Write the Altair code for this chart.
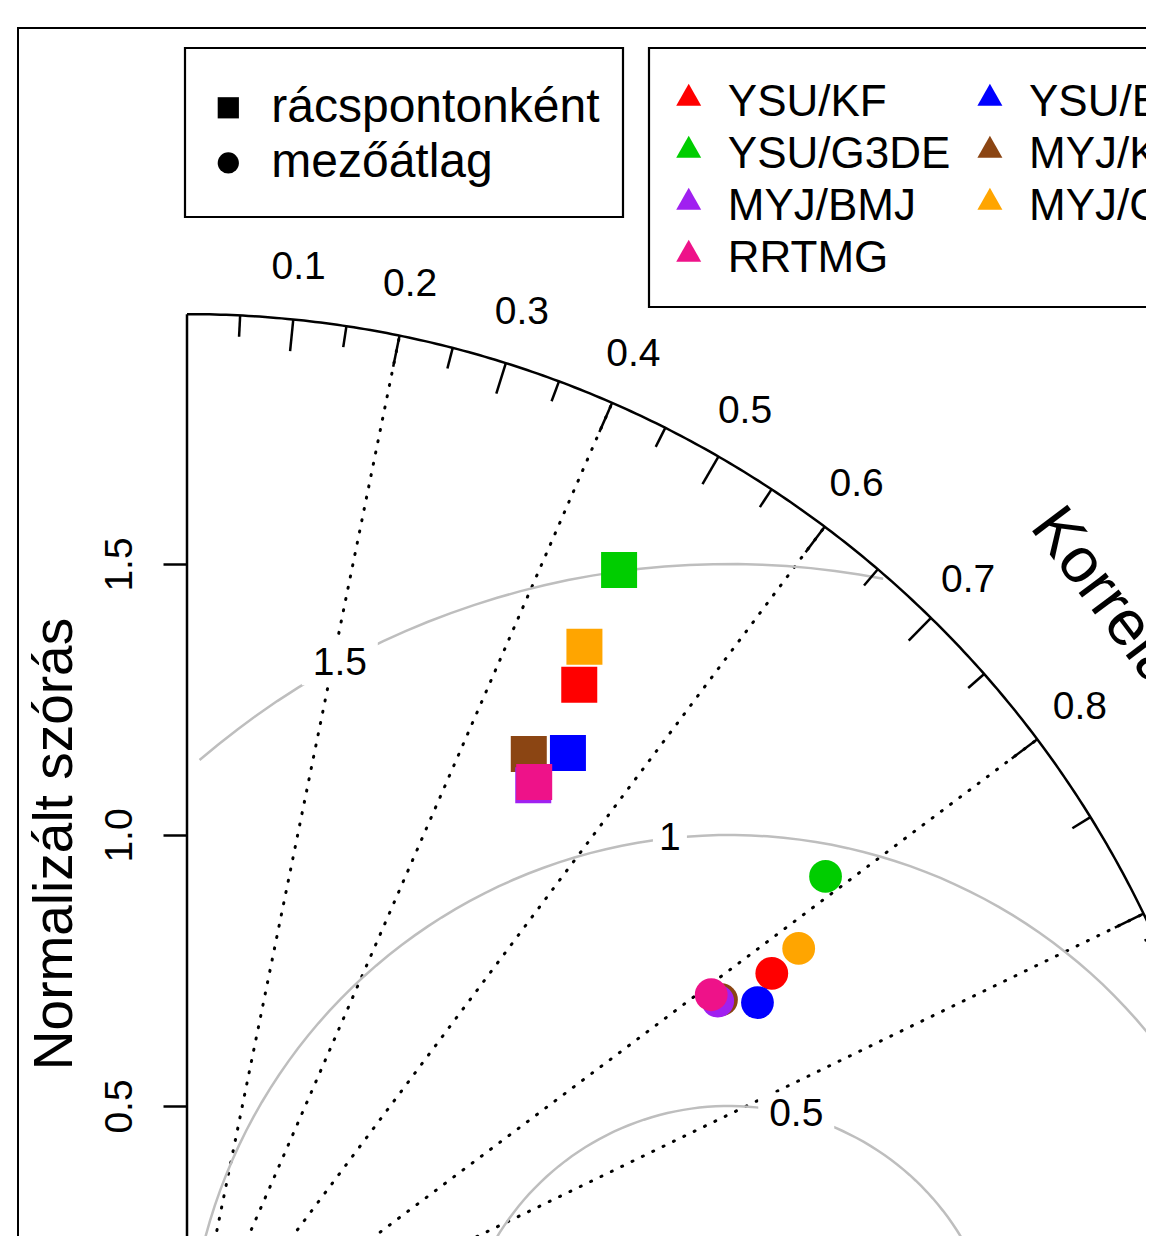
import numpy as np
import pandas as pd
import altair as alt

# ---------------- data ----------------
models = ["YSU/KF", "YSU/BMJ", "YSU/G3DE", "MYJ/KF", "MYJ/BMJ", "MYJ/G3DE", "RRTMG"]
colors = ["#FF0000", "#0000FF", "#00CD00", "#8B4513", "#A020F0", "#FFA500", "#EE1289"]
# order in which the legend lists the models (filled column by column)
legend_order = ["YSU/KF", "YSU/G3DE", "MYJ/BMJ", "RRTMG", "YSU/BMJ", "MYJ/KF", "MYJ/G3DE"]
types = ["rácspontonként", "mezőátlag"]
# grid-point statistics (squares)
grid_sd = [1.468, 1.349, 1.689, 1.311, 1.265, 1.534, 1.271]
grid_r = [0.493, 0.521, 0.472, 0.481, 0.505, 0.478, 0.504]
# field-mean statistics (circles)
mean_sd = [1.311, 1.259, 1.497, 1.207, 1.200, 1.378, 1.197]
mean_r = [0.823, 0.836, 0.787, 0.817, 0.816, 0.819, 0.808]

sd_ticks = [0.5, 1.0, 1.5]
corr_label_values = [0.1, 0.2, 0.3, 0.4, 0.5, 0.6, 0.7, 0.8, 0.9, 0.95, 0.99]
corr_lines = [0.2, 0.4, 0.6, 0.8, 0.9]
rms_levels = [0.5, 1.0, 1.5]
rms_label_text = ["0.5", "1", "1.5"]
max_sd = 1.961
ref_sd = 1.0
y_title = "Normalizált szórás"
x_title = "Korreláció"

# ---------------- layout ----------------
W, H = 1138, 1228
PX = 542.0                 # pixels per unit
OX, OY = 179.0, 1369.0     # chart pixel of the diagram origin
FONT = "Liberation Sans"


def dx(px):
    return (px - OX) / PX


def dy(py):
    return (OY - py) / PX


xs = alt.Scale(domain=[dx(0), dx(W)], nice=False, zero=False)
ys = alt.Scale(domain=[dy(H), dy(0)], nice=False, zero=False)

yaxis = alt.Axis(values=sd_ticks, format=".1f", domain=False, grid=False,
                 ticks=True, tickSize=24, tickWidth=2.5, tickColor="black",
                 labelAngle=270, labelAlign="center", labelBaseline="bottom",
                 labelFont=FONT, labelFontSize=39, labelColor="black",
                 labelPadding=24, offset=-OX, labelFlush=False, labelOverlap=False)


def X(f):
    return alt.X(f, type="quantitative", scale=xs, axis=None)


def Y(f):
    return alt.Y(f, type="quantitative", scale=ys, axis=yaxis, title=None)


# ---------------- geometry tables ----------------
frame = pd.DataFrame([dict(x=dx(10), y=dy(20), x2=dx(2000), y2=dy(2000))])
boxes = pd.DataFrame([
    dict(x=dx(177), y=dy(40), x2=dx(615), y2=dy(209)),
    dict(x=dx(641), y=dy(40), x2=dx(2000), y2=dy(299)),
])

th = np.linspace(0, np.pi / 2, 300)
arc = pd.DataFrame({"i": np.arange(len(th)), "x": max_sd * np.cos(th), "y": max_sd * np.sin(th)})

rows = []
labels = []
tt = np.arange(0, np.pi, 0.03)
label_idx = [44, 56, 69]
for k, g in enumerate(rms_levels):
    xc = np.cos(tt) * g + ref_sd
    yc = np.sin(tt) * g
    neg = np.where(xc < 0)[0]
    end = neg.min() - 1 if len(neg) else len(tt) - 1
    out = np.where(xc ** 2 + yc ** 2 > max_sd ** 2)[0]
    start = out.max() + 1 if len(out) else 0
    for i in range(start, end + 1):
        rows.append(dict(level=g, i=i, x=xc[i], y=yc[i]))
    j = label_idx[k]
    labels.append(dict(x=xc[j], y=yc[j], t=rms_label_text[k], wide=len(rms_label_text[k]) > 1))
contours = pd.DataFrame(rows)
clab = pd.DataFrame(labels)

rad = pd.DataFrame([dict(x=0.0, y=0.0, x2=max_sd * c, y2=max_sd * np.sqrt(1 - c * c)) for c in corr_lines])

trows = []
for vals, f in [(np.arange(1, 10) / 10, 0.97), (np.arange(0.05, 1.0, 0.1), 0.98),
                (np.arange(91, 100) / 100, 0.99)]:
    for c in vals:
        s = np.sqrt(1 - c * c)
        trows.append(dict(x=max_sd * c, y=max_sd * s, x2=f * max_sd * c, y2=f * max_sd * s))
ticks = pd.DataFrame(trows)

tlab = pd.DataFrame([dict(x=1.05 * max_sd * c, y=1.05 * max_sd * np.sqrt(1 - c * c), t=str(c))
                     for c in corr_label_values])

yline = pd.DataFrame([dict(x=0.0, y=0.0, y2=max_sd)])

ytitle = pd.DataFrame([dict(x=dx(64), y=dy(836), t=y_title)])
xtitle = pd.DataFrame([dict(x=dx(1021), y=dy(519), t=x_title)])

df_grid = pd.DataFrame({"model": models, "type": types[0],
                        "x": np.array(grid_sd) * np.array(grid_r),
                        "y": np.array(grid_sd) * np.sqrt(1 - np.array(grid_r) ** 2)})
df_mean = pd.DataFrame({"model": models, "type": types[1],
                        "x": np.array(mean_sd) * np.array(mean_r),
                        "y": np.array(mean_sd) * np.sqrt(1 - np.array(mean_r) ** 2)})

# ---------------- legends ----------------
color_of = dict(zip(models, colors))
color_legend = alt.Legend(title=None, orient="none", legendX=658.7, legendY=72.9, columns=2,
                          symbolType="M0,-1.54L1,0.22L-1,0.22Z", symbolSize=625,
                          symbolStrokeWidth=0, symbolOpacity=1,
                          labelFont=FONT, labelFontSize=44, labelColor="black",
                          labelOffset=17.1, columnPadding=17.2, rowPadding=8,
                          labelLimit=800, padding=0)
shape_legend = alt.Legend(title=None, orient="none", legendX=196.3, legendY=75.8,
                          symbolSize=450, symbolStrokeWidth=0, symbolOpacity=1,
                          labelFont=FONT, labelFontSize=48, labelColor="black",
                          labelOffset=19, rowPadding=7.1, labelLimit=800, padding=0)

color_enc = alt.Color("model:N",
                      scale=alt.Scale(domain=legend_order, range=[color_of[m] for m in legend_order]),
                      legend=color_legend)
shape_enc = alt.Shape("type:N", scale=alt.Scale(domain=types, range=["square", "circle"]), legend=shape_legend)

# ---------------- layers ----------------
l_frame = alt.Chart(frame).mark_rect(fillOpacity=0, stroke="black", strokeWidth=2, clip=True).encode(
    x=X("x"), x2="x2", y=Y("y"), y2="y2")
l_boxes = alt.Chart(boxes).mark_rect(fillOpacity=0, stroke="black", strokeWidth=2.2, clip=True).encode(
    x=X("x"), x2="x2", y=Y("y"), y2="y2")
l_rad = alt.Chart(rad).mark_rule(color="black", strokeWidth=3, strokeDash=[1, 10.5], strokeCap="round",
                                 clip=True).encode(x=X("x"), y=Y("y"), x2="x2", y2="y2")
l_cont = alt.Chart(contours).mark_line(color="#BEBEBE", strokeWidth=2.5, clip=True).encode(
    x=X("x"), y=Y("y"), detail="level:N", order="i:Q")
l_box_w = alt.Chart(clab).transform_filter("datum.wide").mark_point(
    shape="M-1,-0.58L1,-0.58L1,0.58L-1,0.58Z", size=76 * 76, filled=True, color="white", opacity=1,
    strokeWidth=0).encode(x=X("x"), y=Y("y"))
l_box_n = alt.Chart(clab).transform_filter("!datum.wide").mark_point(
    shape="M-1,-1.3L1,-1.3L1,1.3L-1,1.3Z", size=34 * 34, filled=True, color="white", opacity=1,
    strokeWidth=0).encode(x=X("x"), y=Y("y"))
l_clab = alt.Chart(clab).mark_text(font=FONT, fontSize=39, color="black", align="center",
                                   baseline="middle").encode(x=X("x"), y=Y("y"), text="t:N")
l_arc = alt.Chart(arc).mark_line(color="black", strokeWidth=2.5, clip=True).encode(
    x=X("x"), y=Y("y"), order="i:Q")
l_ticks = alt.Chart(ticks).mark_rule(color="black", strokeWidth=2.5, clip=True).encode(
    x=X("x"), y=Y("y"), x2="x2", y2="y2")
l_yline = alt.Chart(yline).mark_rule(color="black", strokeWidth=2.5, clip=True).encode(
    x=X("x"), y=Y("y"), y2="y2")
l_tlab = alt.Chart(tlab).mark_text(font=FONT, fontSize=39, color="black", align="center",
                                   baseline="middle").encode(x=X("x"), y=Y("y"), text="t:N")
l_ytitle = alt.Chart(ytitle).mark_text(font=FONT, fontSize=55, color="black", align="center",
                                       baseline="alphabetic", angle=270).encode(
    x=X("x"), y=Y("y"), text="t:N")
l_xtitle = alt.Chart(xtitle).mark_text(font=FONT, fontSize=64, color="black", align="left",
                                       baseline="alphabetic", angle=53).encode(
    x=X("x"), y=Y("y"), text="t:N")
l_sq = alt.Chart(df_grid).mark_point(filled=True, opacity=1, size=1296, strokeWidth=0).encode(
    x=X("x"), y=Y("y"), color=color_enc, shape=shape_enc)
l_ci = alt.Chart(df_mean).mark_point(filled=True, opacity=1, size=1075, strokeWidth=0).encode(
    x=X("x"), y=Y("y"), color=color_enc, shape=shape_enc)

chart = alt.layer(
    l_frame, l_rad, l_cont, l_box_w, l_box_n, l_clab, l_arc, l_ticks, l_yline, l_tlab,
    l_ytitle, l_xtitle, l_boxes, l_sq, l_ci
).properties(
    width=W, height=H, autosize=alt.AutoSizeParams(type="none"), padding=0
).configure_view(strokeWidth=0).configure_legend(
    symbolBaseFillColor="black", symbolBaseStrokeColor="black"
)

chart.save("out.html", embed_options={"renderer": "svg", "actions": False})
